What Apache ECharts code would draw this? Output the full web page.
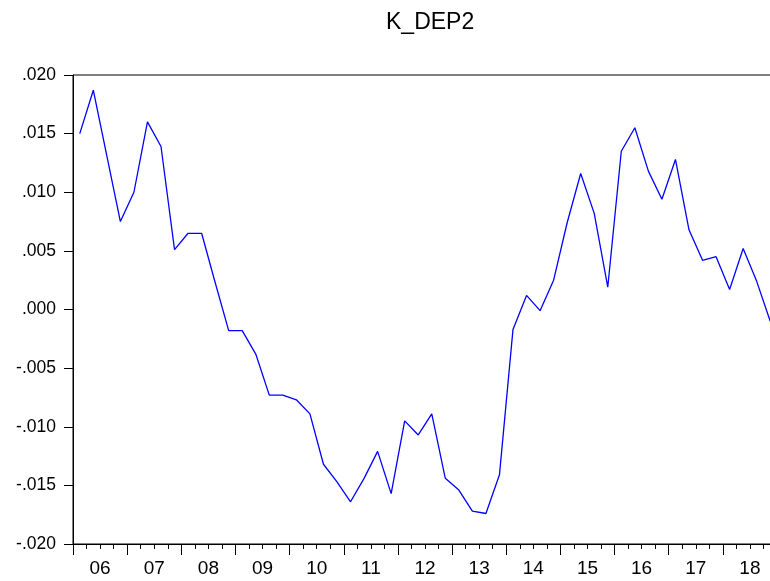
<!DOCTYPE html>
<html>
<head>
<meta charset="utf-8">
<title>K_DEP2</title>
<script src="https://cdn.jsdelivr.net/npm/echarts@6/dist/echarts.min.js"></script>
<style>
  html, body { margin: 0; padding: 0; background: #fff; }
  #chart { width: 770px; height: 581px; }
</style>
</head>
<body>
<div id="chart"></div>
<script>
// quarterly series 2006Q1 .. 2018Q4
var years = ['06', '07', '08', '09', '10', '11', '12', '13', '14', '15', '16', '17', '18']
var quarters = []
years.forEach(function (y) {
    for (var q = 1; q <= 4; q++) quarters.push('20' + y + 'Q' + q)
})

var kDep2 = [
    0.0150, 0.0187, 0.0131, 0.0075, 0.0100, 0.0160, 0.0139, 0.0051,
    0.0065, 0.0065, 0.0023, -0.0018, -0.0018, -0.0038, -0.0073, -0.0073,
    -0.0077, -0.0089, -0.0132, -0.0147, -0.0164, -0.0144, -0.0121, -0.0157,
    -0.0095, -0.0107, -0.0089, -0.0144, -0.0154, -0.0172, -0.0174, -0.0141,
    -0.0017, 0.0012, -0.0001, 0.0025, 0.0074, 0.0116, 0.0082, 0.0019,
    0.0135, 0.0155, 0.0118, 0.0094, 0.0128, 0.0068, 0.0042, 0.0045,
    0.0017, 0.0052, 0.0024, -0.0010
]

var chart = echarts.init(document.getElementById('chart'))

var font = 'Liberation Sans, Arial, sans-serif'

chart.setOption({
    backgroundColor: '#fff',
    animation: false,
    title: {
        text: 'K_DEP2',
        left: 381,
        top: 6,
        textStyle: { color: '#000', fontWeight: 'normal', fontSize: 23, fontFamily: font }
    },
    grid: {
        left: 73,
        top: 75,
        width: 704,
        height: 469,
        outerBoundsMode: 'none',
        containLabel: false,
        show: true,
        borderColor: '#000',
        borderWidth: 1
    },
    xAxis: [{
        // quarter ticks
        type: 'category',
        position: 'bottom',
        data: quarters,
        boundaryGap: true,
        axisLine: { show: true, onZero: false, lineStyle: { color: '#000', width: 1 } },
        axisTick: { show: true, interval: 0, length: 5, lineStyle: { color: '#000' } },
        axisLabel: { show: false },
        splitLine: { show: false }
    }, {
        // year ticks + labels
        type: 'category',
        position: 'bottom',
        data: years,
        boundaryGap: true,
        axisLine: { show: false, onZero: false },
        axisTick: { show: true, interval: 0, length: 11, lineStyle: { color: '#000' } },
        axisLabel: { interval: 0, margin: 15, color: '#000', fontSize: 19, fontFamily: font },
        splitLine: { show: false }
    }],
    yAxis: {
        type: 'value',
        min: -0.02,
        max: 0.02,
        interval: 0.005,
        axisLine: { show: true, lineStyle: { color: '#000' } },
        axisTick: { show: true, length: 9, lineStyle: { color: '#000' } },
        axisLabel: {
            margin: 17,
            color: '#000',
            fontSize: 17.5,
            fontFamily: font,
            formatter: function (v) {
                var s = Math.abs(v).toFixed(3).replace(/^0/, '')
                return (v < -1e-9 ? '-' : '') + s
            }
        },
        splitLine: { show: false }
    },
    series: [{
        type: 'line',
        xAxisIndex: 0,
        data: kDep2,
        symbol: 'none',
        lineStyle: { color: '#0000ff', width: 1.3 }
    }]
})
</script>
</body>
</html>
